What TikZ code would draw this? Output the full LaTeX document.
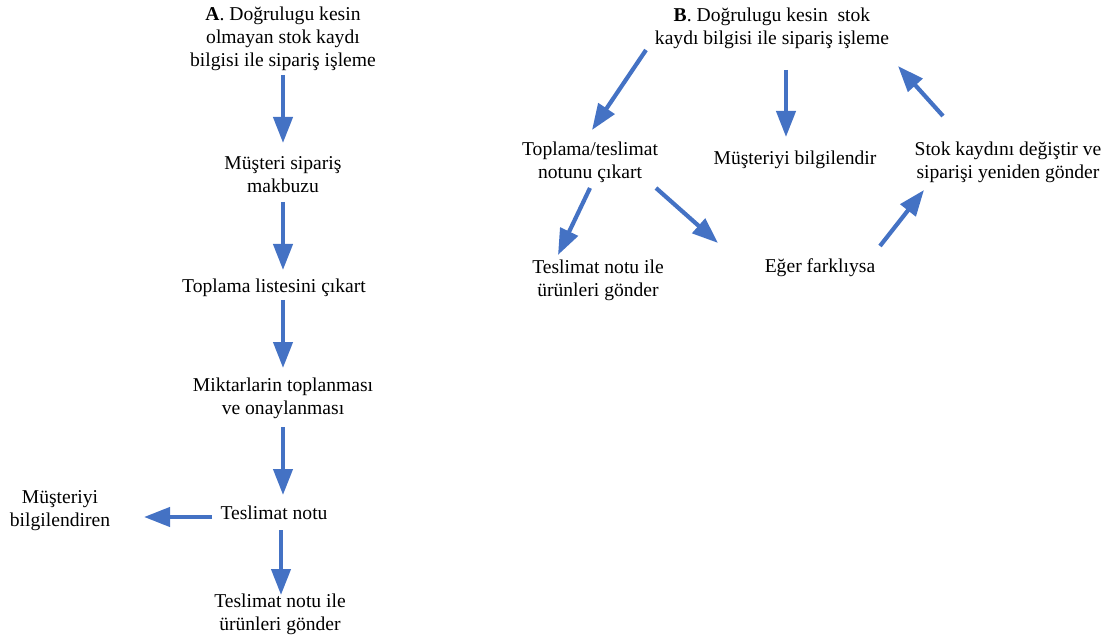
\documentclass[tikz,border=0pt]{standalone}
\usepackage{fontspec}
\setmainfont{Liberation Serif}
\usetikzlibrary{arrows.meta}
\definecolor{flowblue}{HTML}{4472C4}
\tikzset{
  lbl/.style={align=center, inner sep=0pt, font=\fontsize{19.6}{23}\selectfont},
  flow/.style={draw=flowblue, line width=4.2pt, -{Triangle[width=19pt,length=26pt]}}
}
\begin{document}
\begin{tikzpicture}[x=1pt,y=-1pt]
\useasboundingbox (0,0) rectangle (1112,639);
% ---- A: process without reliable stock data ----
\node[lbl] (a0) at (283,39) {\textbf{A}. Doğrulugu kesin\\olmayan stok kaydı\\bilgisi ile sipariş işleme};
\node[lbl] (a1) at (283,175) {Müşteri sipariş\\makbuzu};
\node[lbl] (a2) at (274,288) {Toplama listesini çıkart};
\node[lbl] (a3) at (283,398) {Miktarlarin toplanması\\ve onaylanması};
\node[lbl] (a4) at (274,513) {Teslimat notu};
\node[lbl] (a5) at (60,511) {Müşteriyi\\bilgilendiren};
\node[lbl] (a6) at (280,614) {Teslimat notu ile\\ürünleri gönder};
\coordinate (a0s) at (283,75);  \coordinate (a1n) at (283,143);
\coordinate (a1s) at (283,202); \coordinate (a2n) at (283,270);
\coordinate (a2s) at (283,300); \coordinate (a3n) at (283,368);
\coordinate (a3s) at (283,427); \coordinate (a4n) at (283,495);
\coordinate (a4w) at (212,517); \coordinate (a5e) at (144,517);
\coordinate (a4s) at (281,530); \coordinate (a6n) at (281,595);
\draw[flow] (a0s) -- (a1n);
\draw[flow] (a1s) -- (a2n);
\draw[flow] (a2s) -- (a3n);
\draw[flow] (a3s) -- (a4n);
\draw[flow] (a4w) -- (a5e);
\draw[flow] (a4s) -- (a6n);
% ---- B: process with reliable stock data ----
\node[lbl] (b0) at (772,28) {\textbf{B}. Doğrulugu kesin\ \ stok\\kaydı bilgisi ile sipariş işleme};
\node[lbl] (b1) at (590,162) {Toplama/teslimat\\notunu çıkart};
\node[lbl] (b2) at (795,160) {Müşteriyi bilgilendir};
\node[lbl] (b3) at (1008,162) {Stok kaydını değiştir ve\\siparişi yeniden gönder};
\node[lbl] (b4) at (598,280) {Teslimat notu ile\\ürünleri gönder};
\node[lbl] (b5) at (820,268) {Eğer farklıysa};
\coordinate (b0sw) at (646,50);  \coordinate (b1n) at (592,130);
\coordinate (b0s) at (786,70);   \coordinate (b2n) at (786,137);
\coordinate (b3nw) at (943,116); \coordinate (b0e) at (898,66);
\coordinate (b1sw) at (590,188); \coordinate (b4n) at (558,255);
\coordinate (b1se) at (656,188); \coordinate (b5nw) at (718,243);
\coordinate (b5ne) at (880,246); \coordinate (b3sw) at (924,190);
\draw[flow] (b0sw) -- (b1n);
\draw[flow] (b0s) -- (b2n);
\draw[flow] (b3nw) -- (b0e);
\draw[flow] (b1sw) -- (b4n);
\draw[flow] (b1se) -- (b5nw);
\draw[flow] (b5ne) -- (b3sw);
\end{tikzpicture}
\end{document}
